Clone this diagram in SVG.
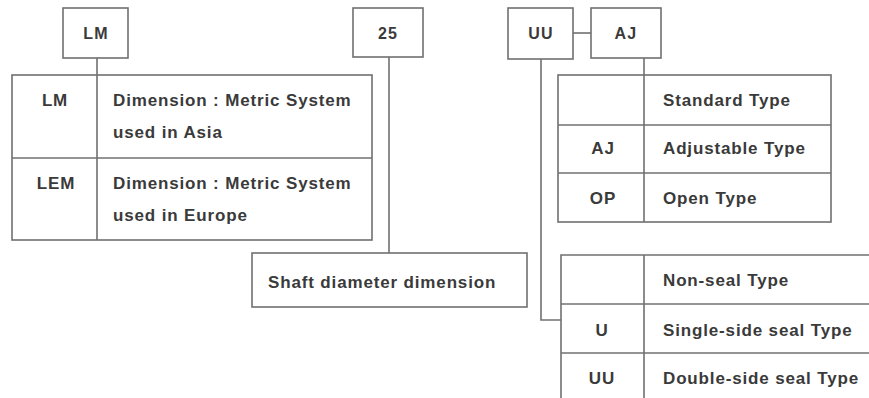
<svg xmlns="http://www.w3.org/2000/svg" width="869" height="398" viewBox="0 0 869 398">
<style>
.box{fill:#fff;stroke:#707070;stroke-width:1.6}
.ln{fill:none;stroke:#707070;stroke-width:1.6}
.t{font-family:"Liberation Sans",Arial,sans-serif;font-weight:bold;font-size:17px;letter-spacing:0.85px;fill:#3a3a3a}
.h{font-family:"Liberation Sans",Arial,sans-serif;font-weight:bold;font-size:16px;letter-spacing:1.2px;fill:#3a3a3a;text-anchor:middle}
.c{text-anchor:middle}
</style>
<rect width="869" height="398" fill="#fff"/>
<g id="connectors">
<line class="ln" x1="97" y1="58" x2="97" y2="75"/>
<line class="ln" x1="389" y1="57" x2="389" y2="253"/>
<line class="ln" x1="573" y1="33" x2="591" y2="33"/>
<polyline class="ln" points="541,59 541,320 561,320"/>
<line class="ln" x1="644" y1="58" x2="644" y2="75"/>
</g>
<g id="node-lm">
<rect class="box" x="63" y="8" width="65" height="50"/>
<text class="h" x="96" y="39">LM</text>
</g>
<g id="node-25">
<rect class="box" x="353" y="8" width="70" height="49"/>
<text class="h" x="388" y="39">25</text>
</g>
<g id="node-uu">
<rect class="box" x="508" y="8" width="65" height="51"/>
<text class="h" x="541" y="39">UU</text>
</g>
<g id="node-aj">
<rect class="box" x="591" y="8" width="70" height="50"/>
<text class="h" x="626" y="39">AJ</text>
</g>
<g id="table-dimension">
<rect class="box" x="12" y="75" width="360" height="165"/>
<line class="ln" x1="97" y1="75" x2="97" y2="240"/>
<line class="ln" x1="12" y1="158" x2="372" y2="158"/>
<text class="t c" x="55" y="106">LM</text>
<text class="t" x="113" y="106">Dimension : Metric System</text>
<text class="t" x="113" y="138">used in Asia</text>
<text class="t c" x="56" y="189">LEM</text>
<text class="t" x="113" y="189">Dimension : Metric System</text>
<text class="t" x="113" y="221">used in Europe</text>
</g>
<g id="node-shaft">
<rect class="box" x="252" y="253" width="275" height="54"/>
<text class="t" x="268" y="288">Shaft diameter dimension</text>
</g>
<g id="table-type">
<rect class="box" x="558" y="75" width="273" height="147"/>
<line class="ln" x1="644" y1="75" x2="644" y2="222"/>
<line class="ln" x1="558" y1="125" x2="831" y2="125"/>
<line class="ln" x1="558" y1="173" x2="831" y2="173"/>
<text class="t" x="663" y="106">Standard Type</text>
<text class="t c" x="603" y="154">AJ</text>
<text class="t" x="663" y="154">Adjustable Type</text>
<text class="t c" x="603" y="204">OP</text>
<text class="t" x="663" y="204">Open Type</text>
</g>
<g id="table-seal">
<path class="ln" d="M875,255 H561 V405"/>
<line class="ln" x1="644" y1="255" x2="644" y2="405"/>
<line class="ln" x1="561" y1="304" x2="875" y2="304"/>
<line class="ln" x1="561" y1="353" x2="875" y2="353"/>
<text class="t" x="663" y="286">Non-seal Type</text>
<text class="t c" x="602" y="336">U</text>
<text class="t" x="663" y="336">Single-side seal Type</text>
<text class="t c" x="602" y="384">UU</text>
<text class="t" x="663" y="384">Double-side seal Type</text>
</g>
</svg>
